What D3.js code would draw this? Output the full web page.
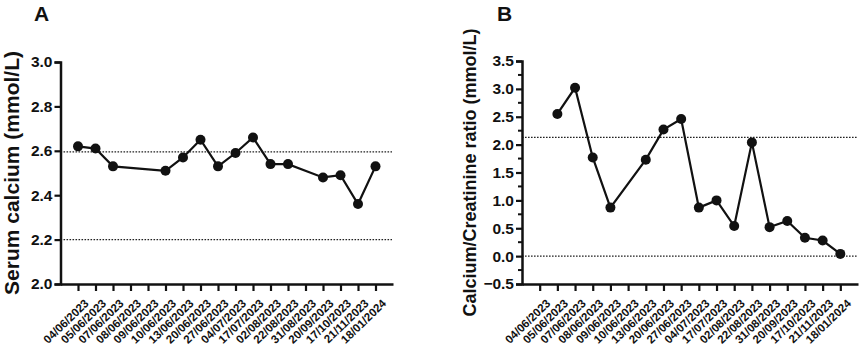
<!DOCTYPE html>
<html><head><meta charset="utf-8">
<script src="https://cdn.jsdelivr.net/npm/d3@7"></script>
<style>
body{margin:0;background:#fff;}
svg{display:block;}
text{font-family:"Liberation Sans",Arial,Helvetica,sans-serif;font-weight:bold;fill:#111;}
</style></head>
<body><svg id="c" width="861" height="347"></svg>
<script>
const dates = ["04/06/2023","05/06/2023","07/06/2023","08/06/2023","09/06/2023","10/06/2023","13/06/2023","20/06/2023","27/06/2023","04/07/2023","17/07/2023","02/08/2023","22/08/2023","31/08/2023","20/09/2023","17/10/2023","21/11/2023","18/01/2024"];
const serumCalcium = [2.62,2.61,2.53,null,null,2.51,2.57,2.65,2.53,2.59,2.66,2.54,2.54,null,2.48,2.49,2.36,2.53];
const caCrRatio = [null,2.55,3.02,1.77,0.87,null,1.73,2.27,2.46,0.87,1.00,0.54,2.04,0.52,0.63,0.33,0.28,0.04];
const refLinesA = [2.2,2.595];
const refLinesB = [0,2.13];
const yTicksA = [2.0,2.2,2.4,2.6,2.8,3.0];
const yTicksB = [-0.5,0.0,0.5,1.0,1.5,2.0,2.5,3.0,3.5];
const yMinorB = [-0.25,0.25,0.75,1.25,1.75,2.25,2.75,3.25];

const svg = d3.select("#c");

function panel(opt){
  const g = svg.append("g");
  const x = d3.scalePoint().domain(dates).range([opt.x0,opt.x1]).padding(1);
  const y = d3.scaleLinear().domain(opt.yDomain).range([284,opt.yTop]);
  g.selectAll("line.ref").data(opt.refs).enter().append("line")
    .attr("x1",opt.x0).attr("x2",opt.x1-1)
    .attr("y1",d=>y(d)).attr("y2",d=>y(d))
    .attr("stroke","#222").attr("stroke-width",1.3).attr("stroke-dasharray","1.6,1.4");
  const yAx = g.append("g").attr("transform",`translate(${opt.x0},0)`)
    .call(d3.axisLeft(y).tickValues(opt.yTicks).tickFormat(d3.format(".1f")).tickSize(6).tickPadding(2));
  yAx.selectAll("text").style("font-size","15.5px");
  if(opt.minor){
    g.selectAll("line.minor").data(opt.minor).enter().append("line")
      .attr("x1",opt.x0-4).attr("x2",opt.x0).attr("y1",d=>y(d)).attr("y2",d=>y(d))
      .attr("stroke","#111").attr("stroke-width",2);
  }
  const xAx = g.append("g").attr("transform","translate(0,284)")
    .call(d3.axisBottom(x).tickSize(7).tickSizeOuter(0));
  xAx.selectAll("text").style("font-size","11.5px").attr("text-anchor","end")
    .attr("transform","translate(4,13) rotate(-44)").attr("dy","0.35em").attr("y",6).attr("x",0);
  svg.selectAll(".domain").attr("stroke","#111").attr("stroke-width",2.5);
  svg.selectAll(".tick line").attr("stroke","#111").attr("stroke-width",2.2);
  const pts = dates.map((d,i)=>({d,v:opt.values[i]})).filter(p=>p.v!=null);
  g.append("path").datum(pts)
    .attr("d",d3.line().x(p=>x(p.d)).y(p=>y(p.v)))
    .attr("fill","none").attr("stroke","#111").attr("stroke-width",2.2);
  g.selectAll("circle").data(pts).enter().append("circle")
    .attr("cx",p=>x(p.d)).attr("cy",p=>y(p.v)).attr("r",5).attr("fill","#111");
  g.append("text").attr("transform",`translate(${opt.titleX},${opt.titleY}) rotate(-90)`)
    .attr("text-anchor","middle").style("font-size",opt.titleSize+"px").text(opt.title);
  g.append("text").attr("x",opt.letterX).attr("y",21).style("font-size","21px").text(opt.letter);
}

panel({x0:60.5,x1:393,yDomain:[2.0,3.0],yTop:62,values:serumCalcium,refs:refLinesA,yTicks:yTicksA,
  title:"Serum calcium (mmol/L)",titleX:18.5,titleY:173,titleSize:21,letter:"A",letterX:34});
panel({x0:522,x1:858,yDomain:[-0.5,3.5],yTop:61,values:caCrRatio,refs:refLinesB,yTicks:yTicksB,minor:yMinorB,
  title:"Calcium/Creatinine ratio (mmol/L)",titleX:476,titleY:172.5,titleSize:18,letter:"B",letterX:497});
</script></body></html>
